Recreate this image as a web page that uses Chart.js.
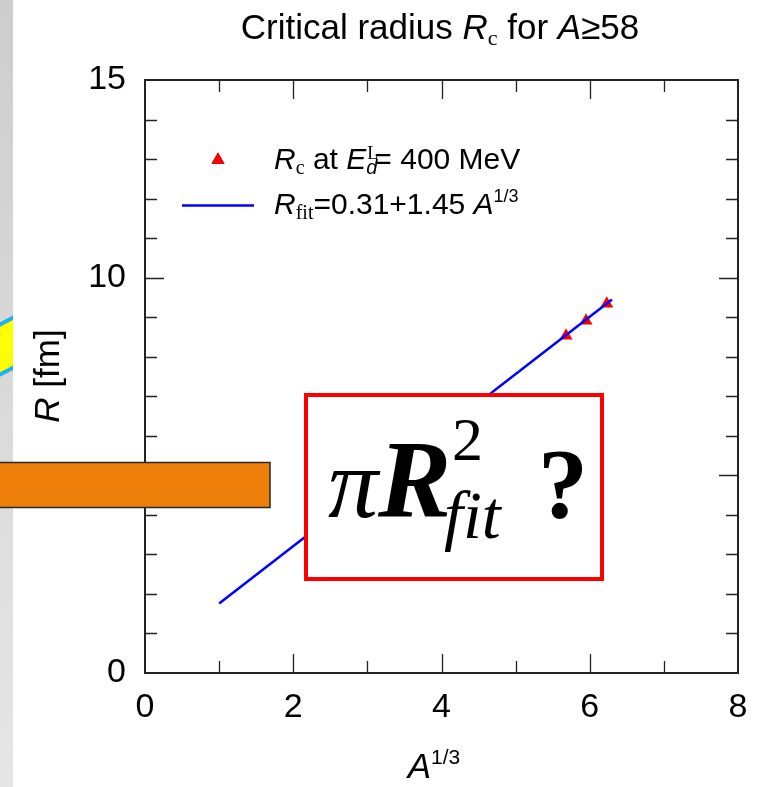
<!DOCTYPE html>
<html>
<head>
<meta charset="utf-8">
<script src="https://cdn.jsdelivr.net/npm/chart.js@4"></script>
<style>
  body { margin: 0; background: #fff; }
  #wrap { position: relative; width: 769px; height: 787px; overflow: hidden; }
</style>
</head>
<body>
<div id="wrap"><canvas id="grafica" width="769" height="787"></canvas></div>
<script>
// values
var rcX  = [5.68, 5.95, 6.23]
var rcY  = [8.53, 8.91, 9.34]
var fitX = [1.0, 6.3]
var fitY = [1.76, 9.45]
var xTicks = [0, 2, 4, 6, 8]
var yTicks = [0, 5, 10, 15]

var SANS  = "'Liberation Sans', Arial, sans-serif"
var SERIF = "'Liberation Serif', 'Times New Roman', serif"

function pts(xs, ys) {
  return xs.map(function (x, i) { return { x: x, y: ys[i] } })
}

// draws a run of text pieces with mixed fonts on one baseline
function rich(ctx, x, y, parts, align) {
  ctx.save()
  ctx.textBaseline = 'alphabetic'
  ctx.textAlign = 'left'
  var w = 0
  parts.forEach(function (p) {
    ctx.font = p.f
    if (!p.stay) w += ctx.measureText(p.t).width
  })
  var cx = align === 'center' ? x - w / 2 : x
  parts.forEach(function (p) {
    ctx.font = p.f
    ctx.fillStyle = p.c || '#000'
    ctx.fillText(p.t, cx + (p.dx || 0), y + (p.dy || 0))
    if (!p.stay) cx += ctx.measureText(p.t).width
  })
  ctx.restore()
}

var slide = {
  id: 'slide',
  beforeDraw: function (chart) {
    var ctx = chart.ctx
    ctx.save()
    var g = ctx.createLinearGradient(0, 0, 0, 787)
    g.addColorStop(0, '#cdcdcd')
    g.addColorStop(1, '#e6e6e6')
    ctx.fillStyle = g
    ctx.fillRect(0, 0, 13, 787)
    // yellow band peeking in at the left edge
    ctx.beginPath()
    ctx.rect(0, 0, 13, 787)
    ctx.clip()
    ctx.beginPath()
    ctx.moveTo(-5, 327); ctx.lineTo(20, 314); ctx.lineTo(20, 364); ctx.lineTo(-5, 377)
    ctx.closePath()
    ctx.fillStyle = '#ffff00'
    ctx.fill()
    ctx.lineWidth = 4
    ctx.strokeStyle = '#1ab2f0'
    ctx.stroke()
    ctx.restore()
  },
  afterDraw: function (chart) {
    var ctx = chart.ctx
    var a = chart.chartArea
    var sx = chart.scales.x, sy = chart.scales.y
    ctx.save()

    // inward ticks on all four sides
    ctx.strokeStyle = '#222'
    ctx.lineWidth = 1.3
    ctx.beginPath()
    for (var i = 1; i < 8; i++) {
      var px = Math.round(sx.getPixelForValue(i)) + 0.5
      var len = i % 2 === 0 ? 19 : 12
      ctx.moveTo(px, a.bottom); ctx.lineTo(px, a.bottom - len)
      ctx.moveTo(px, a.top); ctx.lineTo(px, a.top + len)
    }
    for (var j = 1; j < 15; j++) {
      var py = Math.round(sy.getPixelForValue(j)) + 0.5
      var l2 = j % 5 === 0 ? 19 : 12
      ctx.moveTo(a.left, py); ctx.lineTo(a.left + l2, py)
      ctx.moveTo(a.right, py); ctx.lineTo(a.right - l2, py)
    }
    ctx.stroke()
    ctx.lineWidth = 2
    ctx.strokeRect(a.left, a.top, a.right - a.left, a.bottom - a.top)

    // title
    rich(ctx, 440, 39, [
      { t: 'Critical radius ', f: '35px ' + SANS },
      { t: 'R', f: 'italic 35px ' + SANS },
      { t: 'c', f: '22px ' + SERIF, dy: 6 },
      { t: ' for ', f: '35px ' + SANS },
      { t: 'A', f: 'italic 35px ' + SANS },
      { t: '≥58', f: '35px ' + SANS }
    ], 'center')

    // legend
    Chart.helpers.drawPoint(ctx, { pointStyle: 'triangle', radius: 7.5, borderWidth: 0 }, 218, 160)
    ctx.fillStyle = '#ff0000'
    ctx.fill()
    ctx.strokeStyle = '#0000ff'
    ctx.lineWidth = 2.5
    ctx.beginPath(); ctx.moveTo(182, 205.5); ctx.lineTo(254, 205.5); ctx.stroke()

    rich(ctx, 274, 169, [
      { t: 'R', f: 'italic 30px ' + SANS },
      { t: 'c', f: '20px ' + SERIF, dy: 5 },
      { t: ' at ', f: '30px ' + SANS },
      { t: 'E', f: 'italic 30px ' + SANS },
      { t: 'L', f: '18px ' + SERIF, dy: -10, stay: true, dx: 1 },
      { t: 'd', f: 'italic 20px ' + SANS, dy: 5 },
      { t: '= 400 MeV', f: '30px ' + SANS, dx: -3 }
    ])
    rich(ctx, 274, 214, [
      { t: 'R', f: 'italic 30px ' + SANS },
      { t: 'fit', f: '20px ' + SERIF, dy: 5 },
      { t: '=0.31+1.45 ', f: '30px ' + SANS },
      { t: 'A', f: 'italic 30px ' + SANS },
      { t: '1/3', f: '18px ' + SANS, dy: -12 }
    ])

    // axis titles
    rich(ctx, 434, 778, [
      { t: 'A', f: 'italic 35px ' + SANS },
      { t: '1/3', f: '21px ' + SANS, dy: -14 }
    ], 'center')
    ctx.save()
    ctx.translate(59, 376)
    ctx.rotate(-Math.PI / 2)
    rich(ctx, 0, 0, [
      { t: 'R', f: 'italic 35px ' + SANS },
      { t: ' [fm]', f: '35px ' + SANS }
    ], 'center')
    ctx.restore()

    // orange bar over the left side
    ctx.fillStyle = '#ef7f0b'
    ctx.fillRect(-2, 462.5, 272, 45)
    ctx.strokeStyle = '#2a2a2a'
    ctx.lineWidth = 1.5
    ctx.strokeRect(-2, 462.5, 272, 45)

    // red box with the question
    ctx.fillStyle = '#fff'
    ctx.fillRect(306, 395, 296, 184)
    ctx.strokeStyle = '#ff0000'
    ctx.lineWidth = 4
    ctx.strokeRect(306, 395, 296, 184)
    rich(ctx, 328, 517, [
      { t: 'π', f: 'italic 100px ' + SERIF },
      { t: 'R', f: 'bold italic 110px ' + SERIF }
    ])
    rich(ctx, 452, 460, [{ t: '2', f: '62px ' + SERIF }])
    rich(ctx, 444, 538, [{ t: 'fit', f: 'italic 68px ' + SERIF }])
    rich(ctx, 538, 517, [{ t: '?', f: 'bold 100px ' + SERIF }])

    ctx.restore()
  }
}

function drawChart(ctx) {
  var font = { family: SANS, size: 34 }
  new Chart(ctx, {
    type: 'scatter',
    data: {
      datasets: [
        {
          label: 'R fit',
          data: pts(fitX, fitY),
          showLine: true,
          borderColor: '#0000ff',
          borderWidth: 2.5,
          pointRadius: 0,
          order: 0
        },
        {
          label: 'Rc',
          data: pts(rcX, rcY),
          pointStyle: 'triangle',
          pointRadius: 7.5,
          backgroundColor: '#ff0000',
          borderWidth: 0,
          order: 1
        }
      ]
    },
    options: {
      responsive: false,
      animation: false,
      layout: { padding: { left: 0, top: 80, right: 31, bottom: 0 } },
      plugins: {
        legend: { display: false },
        title: { display: false },
        tooltip: { enabled: false }
      },
      scales: {
        x: {
          type: 'linear', min: 0, max: 8,
          afterBuildTicks: function (s) { s.ticks = xTicks.map(function (v) { return { value: v } }) },
          ticks: { font: font, color: '#000', padding: 14 },
          grid: { display: false, drawTicks: false },
          border: { display: false },
          afterFit: function (s) { s.height = 114 }
        },
        y: {
          type: 'linear', min: 0, max: 15,
          afterBuildTicks: function (s) { s.ticks = yTicks.map(function (v) { return { value: v } }) },
          ticks: { font: font, color: '#000', padding: 19 },
          grid: { display: false, drawTicks: false },
          border: { display: false },
          afterFit: function (s) { s.width = 145 }
        }
      }
    },
    plugins: [slide]
  })
}

drawChart(document.getElementById('grafica').getContext('2d'))
</script>
</body>
</html>
